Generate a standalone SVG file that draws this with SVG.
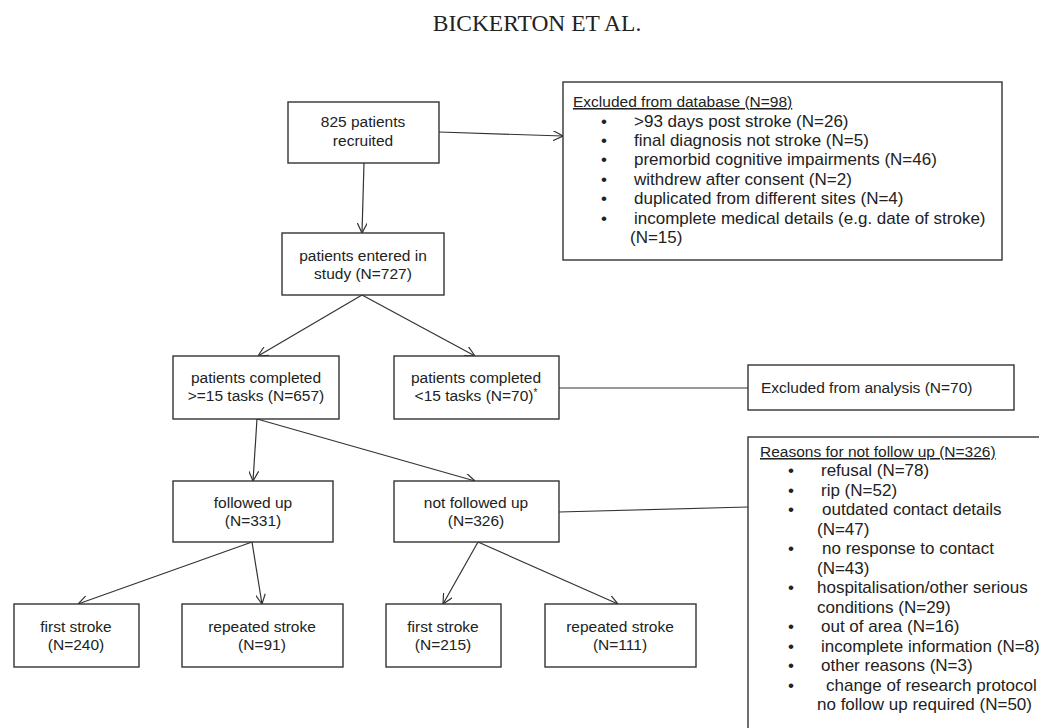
<svg xmlns="http://www.w3.org/2000/svg" width="1039" height="728" viewBox="0 0 1039 728">
<style>
.bg{fill:#fff}
.box{fill:#fff;stroke:#333;stroke-width:1.4}
.t{font-family:"Liberation Sans",Arial,sans-serif;font-size:15.5px;fill:#222;text-anchor:middle}
.l{font-family:"Liberation Sans",Arial,sans-serif;font-size:15.5px;fill:#222}
.b{font-family:"Liberation Sans",Arial,sans-serif;font-size:17px;fill:#222}
.u{text-decoration:underline}
.c{fill:none;stroke:#333;stroke-width:1.2}
.title{font-family:"Liberation Serif","Times New Roman",serif;font-size:23.5px;fill:#222;text-anchor:middle}
</style>
<defs>
<marker id="arr" viewBox="0 0 10 10" refX="10" refY="5" markerWidth="10" markerHeight="10" markerUnits="userSpaceOnUse" orient="auto">
<path d="M0,0 L10,5 L0,10" fill="none" stroke="#333" stroke-width="1.2"/>
</marker>
</defs>
<rect class="bg" x="0" y="0" width="1039" height="728"/>
<text class="title" x="537" y="31">BICKERTON ET AL.</text>

<g id="connectors">
<line class="c" x1="364" y1="163" x2="362" y2="233" marker-end="url(#arr)"/>
<line class="c" x1="439" y1="132" x2="563" y2="136" marker-end="url(#arr)"/>
<line class="c" x1="362" y1="295" x2="258" y2="356" marker-end="url(#arr)"/>
<line class="c" x1="362" y1="295" x2="475" y2="356" marker-end="url(#arr)"/>
<line class="c" x1="559" y1="388" x2="748" y2="388"/>
<line class="c" x1="257" y1="419" x2="253" y2="481" marker-end="url(#arr)"/>
<line class="c" x1="257" y1="419" x2="475" y2="481" marker-end="url(#arr)"/>
<line class="c" x1="559" y1="512" x2="748" y2="507"/>
<line class="c" x1="252" y1="542" x2="78" y2="604" marker-end="url(#arr)"/>
<line class="c" x1="252" y1="542" x2="262" y2="604" marker-end="url(#arr)"/>
<line class="c" x1="478" y1="542" x2="443" y2="604" marker-end="url(#arr)"/>
<line class="c" x1="478" y1="542" x2="618" y2="604" marker-end="url(#arr)"/>
</g>

<g id="recruited">
<rect class="box" x="288" y="102" width="151" height="61"/>
<text class="t" x="363" y="127">825 patients</text>
<text class="t" x="363" y="146">recruited</text>
</g>

<g id="excluded-db">
<rect class="box" x="563" y="82" width="439" height="178"/>
<text class="l u" x="573" y="107">Excluded from database (N=98)</text>
<text class="b" x="601" y="127">•</text><text class="b" x="634" y="127">&gt;93 days post stroke (N=26)</text>
<text class="b" x="601" y="146">•</text><text class="b" x="634" y="146">final diagnosis not stroke (N=5)</text>
<text class="b" x="601" y="165">•</text><text class="b" x="634" y="165">premorbid cognitive impairments (N=46)</text>
<text class="b" x="601" y="185">•</text><text class="b" x="634" y="185">withdrew after consent (N=2)</text>
<text class="b" x="601" y="204">•</text><text class="b" x="634" y="204">duplicated from different sites (N=4)</text>
<text class="b" x="601" y="224">•</text><text class="b" x="634" y="224">incomplete medical details (e.g. date of stroke)</text>
<text class="b" x="630" y="243">(N=15)</text>
</g>

<g id="entered">
<rect class="box" x="282" y="233" width="162" height="62"/>
<text class="t" x="363" y="261">patients entered in</text>
<text class="t" x="363" y="279">study (N=727)</text>
</g>

<g id="completed-ge15">
<rect class="box" x="173" y="356" width="166" height="63"/>
<text class="t" x="256" y="383">patients completed</text>
<text class="t" x="256" y="401">&gt;=15 tasks (N=657)</text>
</g>

<g id="completed-lt15">
<rect class="box" x="394" y="356" width="165" height="63"/>
<text class="t" x="476" y="383">patients completed</text>
<text class="t" x="476" y="401">&lt;15 tasks (N=70)<tspan font-size="10" dy="-5">*</tspan></text>
</g>

<g id="excluded-analysis">
<rect class="box" x="748" y="365" width="266" height="45"/>
<text class="l" x="761" y="393">Excluded from analysis (N=70)</text>
</g>

<g id="followed-up">
<rect class="box" x="173" y="481" width="160" height="61"/>
<text class="t" x="253" y="508">followed up</text>
<text class="t" x="253" y="526">(N=331)</text>
</g>

<g id="not-followed-up">
<rect class="box" x="394" y="481" width="165" height="61"/>
<text class="t" x="476" y="508">not followed up</text>
<text class="t" x="476" y="526">(N=326)</text>
</g>

<g id="reasons">
<rect class="box" x="748" y="437" width="320" height="320"/>
<text class="l u" x="760" y="457">Reasons for not follow up (N=326)</text>
<text class="b" x="788" y="476">•</text><text class="b" x="821" y="476">refusal (N=78)</text>
<text class="b" x="788" y="495.5">•</text><text class="b" x="821" y="495.5">rip (N=52)</text>
<text class="b" x="788" y="515">•</text><text class="b" x="822" y="515">outdated contact details</text>
<text class="b" x="817" y="534.5">(N=47)</text>
<text class="b" x="788" y="554">•</text><text class="b" x="822" y="554">no response to contact</text>
<text class="b" x="817" y="573.5">(N=43)</text>
<text class="b" x="788" y="593">•</text><text class="b" x="817" y="593">hospitalisation/other serious</text>
<text class="b" x="817" y="612.5">conditions (N=29)</text>
<text class="b" x="788" y="632">•</text><text class="b" x="821" y="632">out of area (N=16)</text>
<text class="b" x="788" y="651.5">•</text><text class="b" x="821" y="651.5">incomplete information (N=8)</text>
<text class="b" x="788" y="671">•</text><text class="b" x="821" y="671">other reasons (N=3)</text>
<text class="b" x="788" y="690.5">•</text><text class="b" x="826" y="690.5">change of research protocol</text>
<text class="b" x="817" y="710">no follow up required (N=50)</text>
</g>

<g id="fu-first">
<rect class="box" x="14" y="604" width="125" height="63"/>
<text class="t" x="76" y="632">first stroke</text>
<text class="t" x="76" y="650">(N=240)</text>
</g>

<g id="fu-repeated">
<rect class="box" x="182" y="604" width="161" height="63"/>
<text class="t" x="262" y="632">repeated stroke</text>
<text class="t" x="262" y="650">(N=91)</text>
</g>

<g id="nfu-first">
<rect class="box" x="386" y="604" width="115" height="63"/>
<text class="t" x="443" y="632">first stroke</text>
<text class="t" x="443" y="650">(N=215)</text>
</g>

<g id="nfu-repeated">
<rect class="box" x="545" y="604" width="151" height="63"/>
<text class="t" x="620" y="632">repeated stroke</text>
<text class="t" x="620" y="650">(N=111)</text>
</g>
</svg>
